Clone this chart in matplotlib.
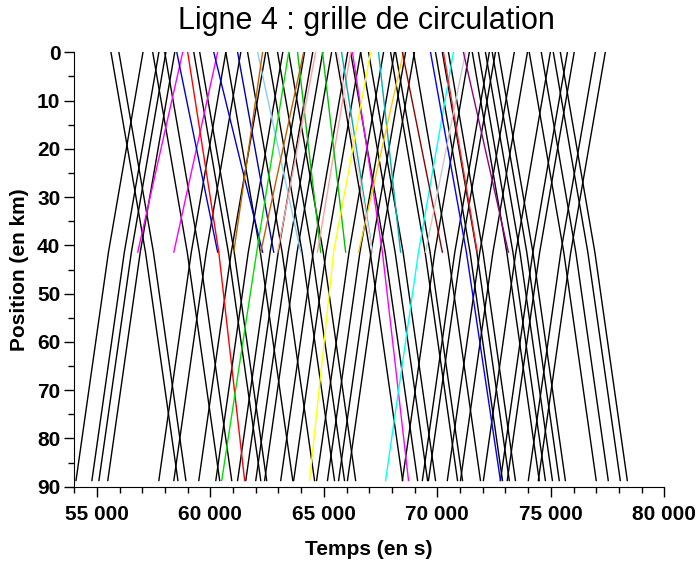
import matplotlib
matplotlib.use('Agg')
import matplotlib.pyplot as plt
from matplotlib.ticker import MultipleLocator, FuncFormatter

plt.rcParams['font.family'] = ['Liberation Sans', 'DejaVu Sans']

# positions on the line (km)
terminus_a = 0.0
turnback = 41.4
terminus_b = 88.7

# black trains: running times (s) read from the slopes
run_a_to_turnback = 1520
run_turnback_to_b = 1430

# black trains leaving km 0 (s)
down_departures = [55620, 55970, 57460, 57990, 59270, 59530, 60680, 61640, 62520,
                   62960, 63450, 65520, 66180, 66620, 66970, 67940, 68160, 68950,
                   69920, 70220, 70490, 71540, 71810, 72120, 72420, 72690, 74050,
                   74580, 75110, 75420]

# black trains leaving km 88.7 (s)
up_departures = [54080, 54780, 55090, 55480, 57730, 58390, 59490, 60240, 61200,
                 61560, 62000, 62390, 63100, 63670, 64680, 65160, 65650, 66040,
                 68460, 69340, 69610, 70440, 71020, 72030, 72780, 73080, 74010,
                 74450]

# coloured trains: colour, passing times (s) and positions (km)
coloured_colors = ['#ff00ff', '#ff00ff', '#0000d0', '#ff0000', '#0000d0', '#0000b0',
                   '#87cefa', '#c06000', '#c06000', '#00e000', '#00c000', '#ffa0a0',
                   '#ffa0a0', '#00c000', '#ff00ff', '#00b0b0', '#00b0b0', '#ffff00',
                   '#ffc800', '#00ffff', '#900000', '#0000ff', '#ff2020', '#c8c8c8',
                   '#900090', '#ffd0d0']
coloured_times = [
    [56800, 58780],
    [58390, 60320],
    [58520, 60320],
    [59000, 60370, 61510],
    [60150, 62300],
    [61200, 62790],
    [62080, 63980],
    [61030, 62300],
    [62220, 64110],
    [60500, 62040, 63450],
    [63840, 64860],
    [62960, 64640],
    [64720, 66180],
    [64940, 65960],
    [66260, 67580, 68730],
    [65780, 67140],
    [67410, 68380],
    [64370, 65430, 67060],
    [66530, 68510],
    [67720, 69170, 70710],
    [68460, 70220],
    [69700, 71280, 72780],
    [70270, 71760],
    [69480, 71240],
    [71150, 73130],
    [65600, 67140],
]
coloured_positions = [
    [41.4, 0.0],
    [41.4, 0.0],
    [0.0, 41.4],
    [0.0, 41.4, 88.7],
    [0.0, 41.4],
    [0.0, 41.4],
    [0.0, 41.4],
    [41.4, 0.0],
    [41.4, 0.0],
    [88.7, 41.4, 0.0],
    [0.0, 41.4],
    [41.4, 0.0],
    [41.4, 0.0],
    [0.0, 41.4],
    [0.0, 41.4, 88.7],
    [0.0, 41.4],
    [0.0, 41.4],
    [88.7, 41.4, 0.0],
    [41.4, 0.0],
    [88.7, 41.4, 0.0],
    [0.0, 41.4],
    [0.0, 41.4, 88.7],
    [0.0, 41.4],
    [41.4, 0.0],
    [0.0, 41.4],
    [0.0, 41.4],
]

fig = plt.figure(figsize=(7, 5.68), dpi=100)
ax = fig.add_axes([0.106, 0.143, 0.843, 0.765])

for t0 in down_departures:
    ax.plot([t0, t0 + run_a_to_turnback, t0 + run_a_to_turnback + run_turnback_to_b],
            [terminus_a, turnback, terminus_b], color='black', lw=1.0)
for t0 in up_departures:
    ax.plot([t0, t0 + run_turnback_to_b, t0 + run_turnback_to_b + run_a_to_turnback],
            [terminus_b, turnback, terminus_a], color='black', lw=1.0)

for col, ts, ps in zip(coloured_colors, coloured_times, coloured_positions):
    ax.plot(ts, ps, color=col, lw=1.0)

ax.set_xlim(54000, 80000)
ax.set_ylim(90, 0)
ax.xaxis.set_major_locator(MultipleLocator(5000))
ax.xaxis.set_minor_locator(MultipleLocator(1000))
ax.yaxis.set_major_locator(MultipleLocator(10))
ax.yaxis.set_minor_locator(MultipleLocator(5))
ax.xaxis.set_major_formatter(FuncFormatter(lambda v, p: '{:,}'.format(int(v)).replace(',', ' ')))

ax.spines['top'].set_visible(False)
ax.spines['right'].set_visible(False)
ax.tick_params(axis='both', which='major', length=7, width=1, labelsize=15, direction='out')
ax.tick_params(axis='both', which='minor', length=4, width=1, direction='out')
ax.tick_params(axis='x', pad=6)
ax.tick_params(axis='y', pad=3)
for lbl in ax.get_xticklabels() + ax.get_yticklabels():
    lbl.set_fontweight('bold')

ax.set_xlabel('Temps (en s)', fontsize=15, fontweight='bold', labelpad=12)
ax.set_ylabel('Position (en km)', fontsize=15, fontweight='bold', labelpad=6)
fig.text(0.524, 0.963, 'Ligne 4 : grille de circulation', ha='center', va='center', fontsize=22)

fig.savefig('out.png', dpi=100)
